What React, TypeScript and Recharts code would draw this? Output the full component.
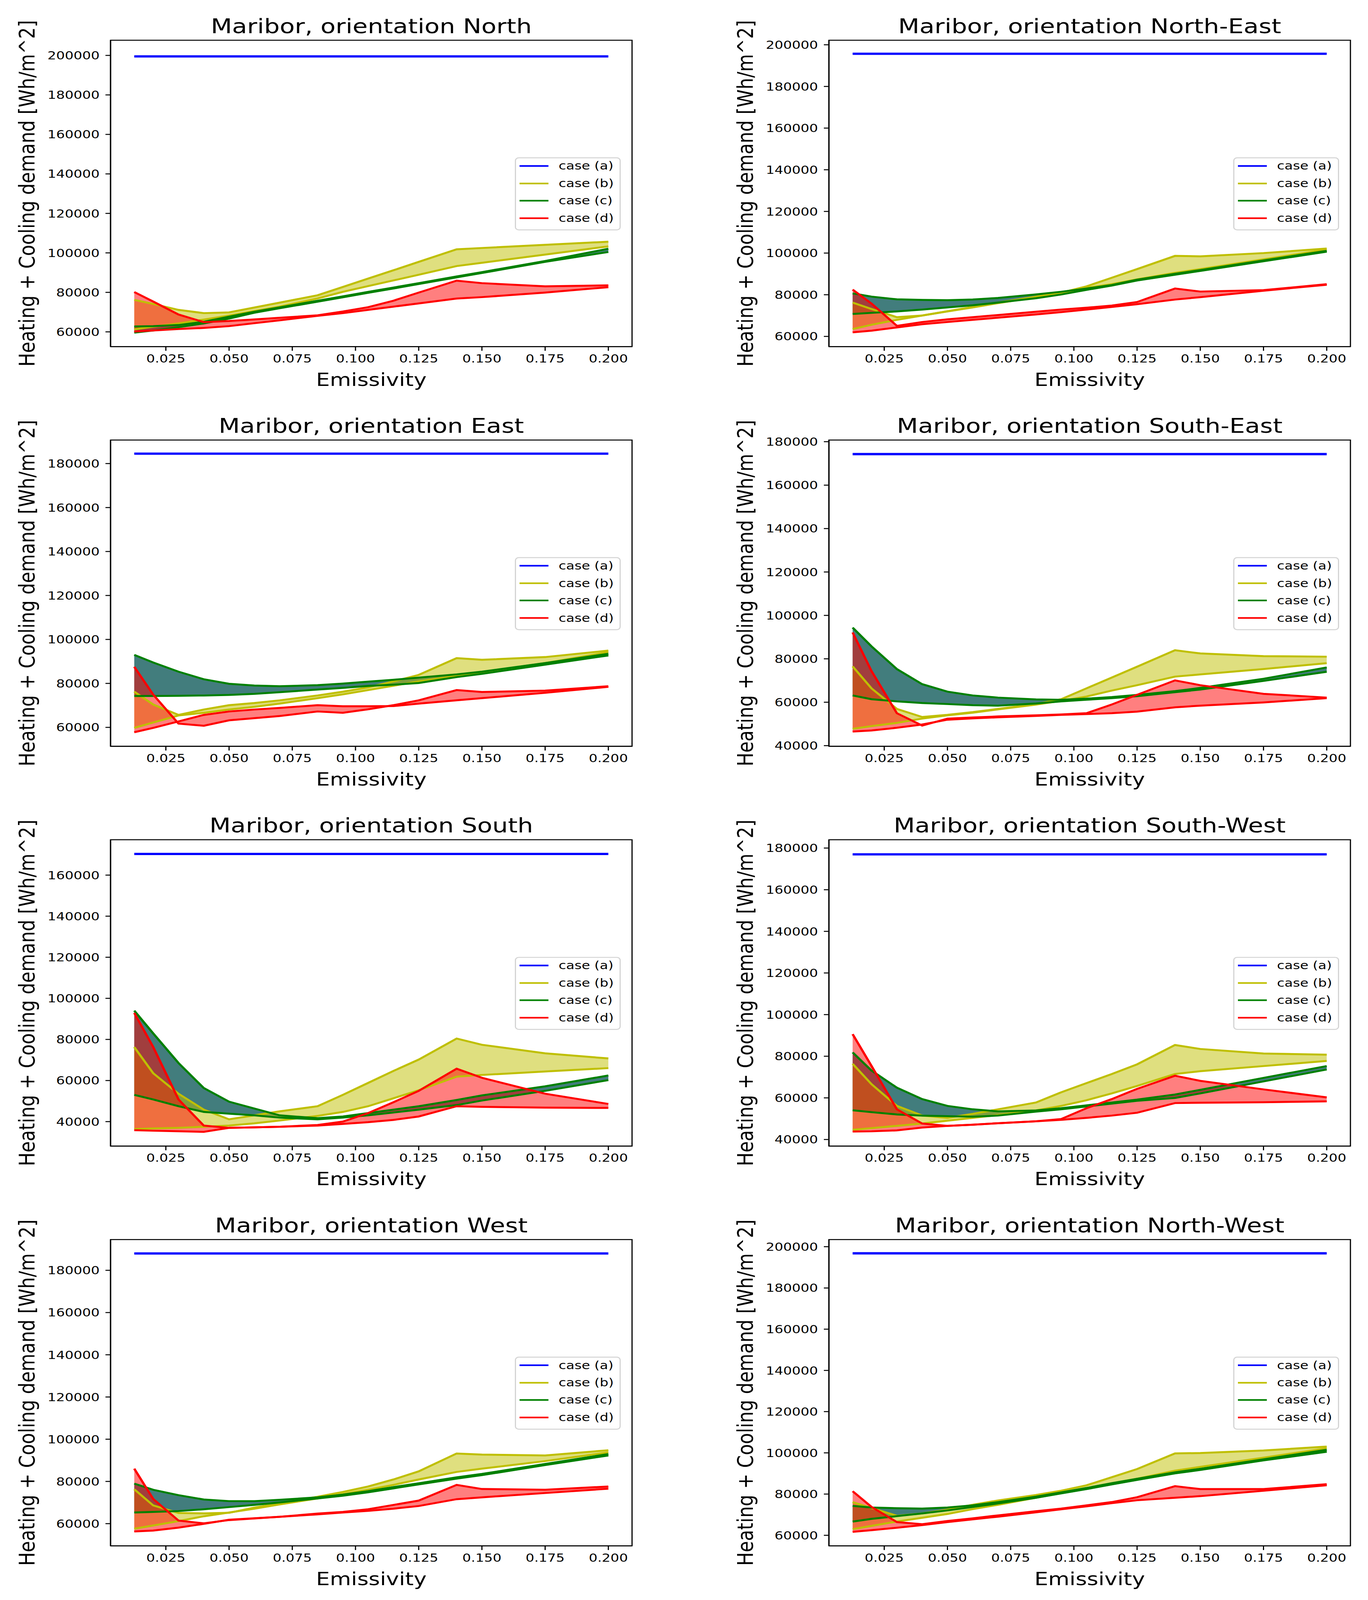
import React from "react";
import { ComposedChart, Area, Line, XAxis, YAxis, ReferenceArea, Legend } from "recharts";

const FONT = "DejaVu Sans, Verdana, sans-serif";

// emissivity values shared by every panel
const EMISSIVITY = [0.0125, 0.02, 0.03, 0.04, 0.05, 0.06, 0.07, 0.085, 0.095, 0.105, 0.115, 0.125, 0.14, 0.15, 0.175, 0.2];
const X_TICKS = [0.025, 0.05, 0.075, 0.1, 0.125, 0.15, 0.175, 0.2];
const LEGEND_LABELS = ["case (a)", "case (b)", "case (c)", "case (d)"];
const LEGEND_COLORS = ["#0000ff", "#bfbf00", "#008000", "#ff0000"];

const TICKS_60_200 = [60000, 80000, 100000, 120000, 140000, 160000, 180000, 200000];
const TICKS_60_180 = [60000, 80000, 100000, 120000, 140000, 160000, 180000];
const TICKS_40_180 = [40000, 60000, 80000, 100000, 120000, 140000, 160000, 180000];
const TICKS_40_160 = [40000, 60000, 80000, 100000, 120000, 140000, 160000];

// North
const N_A = 199500;
const N_B1 = [76220, 74140, 71120, 69480, 69860, 72330, 74800, 78520, 82740, 87000, 91180, 95450, 101800, 102470, 104060, 105650];
const N_B2 = [61260, 62630, 64270, 66190, 68210, 70570, 72770, 76880, 80280, 83180, 86030, 88930, 93320, 94960, 99130, 103290];
const N_C1 = [62740, 62900, 63450, 65100, 67700, 70150, 72400, 75740, 77980, 80230, 82420, 84670, 88070, 90260, 95900, 102090];
const N_C2 = [59620, 60710, 62360, 64270, 66740, 69690, 71940, 75280, 77520, 79770, 81960, 84210, 87610, 89800, 95440, 100440];
const N_D1 = [80170, 75340, 68770, 64930, 65480, 66300, 67120, 68380, 70300, 72490, 75780, 79890, 85920, 84660, 83070, 83560];
const N_D2 = [60160, 60710, 61420, 61970, 62900, 64380, 65860, 68110, 69480, 71120, 72770, 74410, 76880, 77590, 79890, 82630];

// North-East
const NE_A = 195700;
const NE_B1 = [76240, 73130, 69230, 70010, 72090, 74160, 76240, 79090, 81010, 84020, 88170, 92320, 98650, 98440, 100000, 102180];
const NE_B2 = [63530, 65600, 67940, 70010, 71980, 73900, 75980, 78830, 80910, 83240, 85060, 87390, 90510, 92320, 96990, 101660];
const NE_C1 = [80650, 79090, 77800, 77540, 77380, 77690, 78470, 80130, 81430, 82980, 84640, 87230, 90030, 91850, 96460, 101080];
const NE_C2 = [70790, 71310, 71980, 72870, 73900, 74940, 76240, 78310, 80130, 82360, 84380, 86830, 89630, 91450, 96060, 100680];
const NE_D1 = [82460, 75720, 65080, 66900, 68200, 69230, 70270, 71830, 72870, 73750, 74790, 76500, 82980, 81530, 82200, 85060];
const NE_D2 = [61970, 62750, 64310, 65860, 66900, 67940, 68980, 70530, 71670, 72870, 74160, 75460, 77690, 78830, 81940, 84800];

// East
const E_A = 184500;
const E_B1 = [76240, 70400, 65660, 68120, 70090, 71070, 72300, 74510, 76240, 78200, 80910, 83860, 91490, 90750, 91980, 94930];
const E_B2 = [59750, 62210, 65410, 66640, 68120, 69350, 70820, 73280, 75010, 76970, 78940, 80910, 83370, 85090, 89270, 94190];
const E_C1 = [92960, 89520, 85340, 81890, 79830, 79040, 78700, 79190, 79930, 80810, 81650, 82630, 84110, 85340, 89270, 93460];
const E_C2 = [74270, 74270, 74370, 74510, 74760, 75250, 75990, 77220, 77960, 78840, 79430, 80170, 82880, 84350, 88540, 92720];
const E_D1 = [87550, 74900, 61720, 60740, 63200, 64180, 65170, 67230, 66640, 68220, 70090, 72300, 76970, 76090, 76730, 78700];
const E_D2 = [57790, 59750, 62710, 65660, 67230, 68120, 68860, 70090, 69590, 69590, 69690, 70820, 72300, 73280, 75740, 78450];

// South-East
const SE_A = 174300;
const SE_B1 = [76520, 66350, 56920, 53200, 54200, 55440, 56920, 59160, 61390, 66410, 71370, 76380, 83960, 82470, 81230, 80980];
const SE_B2 = [47750, 48990, 50480, 52460, 53950, 55190, 56680, 58910, 60640, 62630, 65360, 67840, 71800, 72800, 75280, 78000];
const SE_C1 = [94370, 85690, 75280, 68330, 64860, 63120, 62130, 61290, 61140, 61640, 62380, 63370, 65110, 66600, 70810, 76020];
const SE_C2 = [63120, 61390, 60400, 59650, 59160, 58660, 58410, 59400, 60400, 61140, 61880, 62780, 64610, 65850, 69820, 74040];
const SE_D1 = [92140, 74280, 54940, 49240, 52460, 52960, 53450, 53950, 54350, 54940, 58960, 63420, 70070, 67840, 63870, 62130];
const SE_D2 = [46510, 47000, 48240, 49730, 51960, 52560, 53060, 53700, 54200, 54540, 54940, 55680, 57670, 58410, 59900, 61880];

// South
const S_A = 170300;
const S_B1 = [76290, 63550, 53570, 45820, 41110, 43050, 44990, 47480, 53020, 58840, 64650, 70190, 80440, 77400, 73240, 70750];
const S_B2 = [36400, 36680, 36950, 37510, 38060, 39170, 40550, 42770, 44710, 47480, 51360, 55240, 61880, 62710, 64380, 66040];
const S_C1 = [94020, 82940, 68530, 56340, 49700, 46370, 43050, 41660, 42490, 44160, 45820, 47480, 50530, 52740, 57170, 62440];
const S_C2 = [53020, 50800, 47480, 44710, 43880, 43050, 41940, 41110, 41940, 43050, 44430, 45820, 48030, 50250, 54960, 60220];
const S_D1 = [92910, 76290, 50800, 38060, 36950, 37230, 37510, 38340, 40000, 44160, 49420, 54960, 65760, 61330, 53570, 48590];
const S_D2 = [35850, 35570, 35290, 35010, 36950, 37230, 37510, 38060, 38890, 39720, 40830, 42490, 47480, 47200, 46810, 46650];

// South-West
const SW_A = 177000;
const SW_B1 = [76380, 66530, 56140, 51490, 50390, 52310, 54500, 57780, 62700, 67080, 71450, 76100, 85400, 83490, 81300, 80750];
const SW_B2 = [44650, 45470, 46560, 47660, 49030, 50390, 51760, 53950, 56140, 58870, 62150, 65710, 71450, 72820, 75280, 77740];
const SW_C1 = [81850, 73090, 64890, 59420, 56140, 54500, 53510, 53950, 55040, 56410, 57780, 59150, 61610, 63860, 69590, 75280];
const SW_C2 = [54060, 53130, 52030, 51490, 51210, 50940, 51490, 53400, 54500, 55860, 57230, 58600, 59970, 62150, 67900, 73640];
const SW_D1 = [90600, 75280, 54500, 47660, 46560, 47110, 47820, 48750, 49850, 55040, 59420, 64340, 70630, 68170, 64070, 60240];
const SW_D2 = [43830, 43940, 44380, 45740, 46560, 47110, 47820, 48750, 49460, 50390, 51490, 52850, 57500, 57670, 57890, 58320];

// West
const W_A = 188000;
const W_B1 = [76310, 68620, 65030, 64870, 65130, 67590, 69640, 72720, 75030, 77590, 80920, 84770, 93230, 92720, 92310, 94770];
const W_B2 = [57590, 59130, 61180, 63490, 65280, 67080, 69130, 71950, 74000, 76050, 78360, 80920, 84510, 86050, 89640, 93740];
const W_C1 = [78970, 76050, 73490, 71440, 70670, 70670, 71280, 72460, 73740, 75380, 77330, 79130, 81950, 83540, 88260, 92970];
const W_C2 = [65280, 65540, 65950, 66820, 67850, 68870, 70050, 71950, 73230, 74870, 76720, 78610, 81330, 82970, 87750, 92310];
const W_D1 = [86050, 71690, 61440, 60150, 61690, 62460, 63230, 64770, 65540, 66820, 68870, 70920, 78360, 76410, 76050, 77590];
const W_D2 = [56310, 56720, 58100, 59900, 61850, 62560, 63230, 64410, 65280, 66050, 67080, 68360, 71590, 72460, 74510, 76560];

// North-West
const NW_A = 196800;
const NW_B1 = [76120, 73230, 69460, 70610, 72440, 74810, 76910, 79530, 81630, 84260, 88190, 92130, 99740, 99900, 101160, 103050];
const NW_B2 = [62990, 64570, 66670, 68500, 70340, 72710, 74810, 78220, 80580, 82940, 85040, 87410, 91340, 93180, 97640, 102210];
const NW_C1 = [74280, 73490, 73130, 72970, 73490, 74540, 76110, 78740, 80840, 82940, 85310, 87410, 90560, 92240, 96860, 101480];
const NW_C2 = [66670, 67980, 69290, 70610, 72080, 73760, 75440, 78220, 80320, 82420, 84680, 86880, 90030, 91710, 96330, 100530];
const NW_D1 = [81370, 73760, 66410, 65360, 66930, 68240, 69660, 71660, 72970, 74540, 76120, 78480, 83840, 82420, 82420, 84780];
const NW_D2 = [61680, 62470, 63680, 64940, 66410, 67720, 69030, 71130, 72600, 74020, 75590, 77010, 78220, 79000, 81630, 84260];

const panels = [
  { title: "Maribor, orientation North", a: N_A, b1: N_B1, b2: N_B2, c1: N_C1, c2: N_C2, d1: N_D1, d2: N_D2, domain: [52560, 207690], ticks: TICKS_60_200 },
  { title: "Maribor, orientation North-East", a: NE_A, b1: NE_B1, b2: NE_B2, c1: NE_C1, c2: NE_C2, d1: NE_D1, d2: NE_D2, domain: [55130, 202180], ticks: TICKS_60_200 },
  { title: "Maribor, orientation East", a: E_A, b1: E_B1, b2: E_B2, c1: E_C1, c2: E_C2, d1: E_D1, d2: E_D2, domain: [51390, 190730], ticks: TICKS_60_180 },
  { title: "Maribor, orientation South-East", a: SE_A, b1: SE_B1, b2: SE_B2, c1: SE_C1, c2: SE_C2, d1: SE_D1, d2: SE_D2, domain: [39700, 180800], ticks: TICKS_40_180 },
  { title: "Maribor, orientation South", a: S_A, b1: S_B1, b2: S_B2, c1: S_C1, c2: S_C2, d1: S_D1, d2: S_D2, domain: [28100, 177200], ticks: TICKS_40_160 },
  { title: "Maribor, orientation South-West", a: SW_A, b1: SW_B1, b2: SW_B2, c1: SW_C1, c2: SW_C2, d1: SW_D1, d2: SW_D2, domain: [36850, 184000], ticks: TICKS_40_180 },
  { title: "Maribor, orientation West", a: W_A, b1: W_B1, b2: W_B2, c1: W_C1, c2: W_C2, d1: W_D1, d2: W_D2, domain: [49500, 194600], ticks: TICKS_60_180 },
  { title: "Maribor, orientation North-West", a: NW_A, b1: NW_B1, b2: NW_B2, c1: NW_C1, c2: NW_C2, d1: NW_D1, d2: NW_D2, domain: [54900, 203500], ticks: TICKS_60_200 },
];

const FIG_W = 3502;
const FIG_H = 4931;
const PANEL_W = 1650;
const PANEL_H = 1232;
const COL_STEP = 1839;
const X_DOMAIN = [0.003125, 0.209375];

const renderLegend = () => (
  <div
    style={{
      boxSizing: "border-box", width: 271, height: 225, border: "3px solid #d4d4d4",
      borderRadius: 10, background: "rgba(255,255,255,0.8)", fontFamily: FONT, fontSize: 35, color: "#000",
    }}
  >
    {LEGEND_LABELS.map((label, i) => (
      <div key={label} style={{ position: "relative", height: 53.7, marginTop: i === 0 ? -3 : 0 }}>
        <div style={{ position: "absolute", left: 9, top: 24, width: 74, height: 5, background: LEGEND_COLORS[i] }} />
        <span style={{ position: "absolute", left: 109, top: 0, lineHeight: "53.7px", whiteSpace: "nowrap" }}>{label}</span>
      </div>
    ))}
  </div>
);

const renderYLabel = (props: any) => {
  const vb = props.viewBox || {};
  const cy = vb.y + vb.height / 2;
  return (
    <text x={88} y={cy} transform={`rotate(-90, 88, ${cy})`} textAnchor="middle" fontSize={56} fontFamily={FONT} fill="#000">
      Heating + Cooling demand [Wh/m^2]
    </text>
  );
};

const renderXLabel = (props: any) => {
  const vb = props.viewBox || {};
  return (
    <text x={vb.x + vb.width / 2} y={vb.y + 121} textAnchor="middle" fontSize={56} fontFamily={FONT} fill="#000">
      Emissivity
    </text>
  );
};

const Panel = ({ p, col, row }: any) => {
  const data = EMISSIVITY.map((x, i) => ({
    x, a: p.a, b1: p.b1[i], b2: p.b2[i], c1: p.c1[i], c2: p.c2[i], d1: p.d1[i], d2: p.d2[i],
  }));
  const tick = { fill: "#000", fontSize: 35, fontFamily: FONT };
  return (
    <div style={{ position: "absolute", left: col * COL_STEP, top: row * PANEL_H, width: PANEL_W, height: PANEL_H }}>
      <div
        style={{
          position: "absolute", left: 283, width: 1335, top: 49, textAlign: "center",
          fontFamily: FONT, fontSize: 63, lineHeight: 1, color: "#000", whiteSpace: "nowrap",
        }}
      >
        {p.title}
      </div>
      <ComposedChart width={PANEL_W} height={PANEL_H} data={data} margin={{ top: 124, right: 32, bottom: 0, left: 0 }}>
        <XAxis
          dataKey="x" type="number" domain={X_DOMAIN} ticks={X_TICKS} allowDataOverflow interval={0}
          tickFormatter={(v: number) => v.toFixed(3)} height={164} tickSize={13} tickMargin={11}
          tick={tick} axisLine={{ stroke: "#000", strokeWidth: 3 }} tickLine={{ stroke: "#000", strokeWidth: 3 }}
          label={{ content: renderXLabel }}
        />
        <YAxis
          type="number" domain={p.domain} ticks={p.ticks} allowDataOverflow interval={0} width={283}
          tickSize={13} tickMargin={15} tick={tick}
          axisLine={{ stroke: "#000", strokeWidth: 3 }} tickLine={{ stroke: "#000", strokeWidth: 3 }}
          label={{ content: renderYLabel }}
        />
        <Area type="linear" dataKey={(d: any) => [d.c1, d.c2]} fill="#427d7d" fillOpacity={1} stroke="none" isAnimationActive={false} legendType="none" />
        <Area type="linear" dataKey={(d: any) => [d.b1, d.b2]} fill="#bfbf00" fillOpacity={0.5} stroke="none" isAnimationActive={false} legendType="none" />
        <Area type="linear" dataKey={(d: any) => [d.d1, d.d2]} fill="#ff0000" fillOpacity={0.5} stroke="none" isAnimationActive={false} legendType="none" />
        <Line type="linear" dataKey="a" stroke="#0000ff" strokeWidth={7} dot={false} isAnimationActive={false} />
        <Line type="linear" dataKey="b1" stroke="#bfbf00" strokeWidth={6} dot={false} isAnimationActive={false} />
        <Line type="linear" dataKey="b2" stroke="#bfbf00" strokeWidth={6} dot={false} isAnimationActive={false} />
        <Line type="linear" dataKey="c1" stroke="#008000" strokeWidth={6} dot={false} isAnimationActive={false} />
        <Line type="linear" dataKey="c2" stroke="#008000" strokeWidth={6} dot={false} isAnimationActive={false} />
        <Line type="linear" dataKey="d1" stroke="#ff0000" strokeWidth={6} dot={false} isAnimationActive={false} />
        <Line type="linear" dataKey="d2" stroke="#ff0000" strokeWidth={6} dot={false} isAnimationActive={false} />
        <ReferenceArea
          x1={X_DOMAIN[0]} x2={X_DOMAIN[1]} y1={p.domain[0]} y2={p.domain[1]}
          fill="none" fillOpacity={0} stroke="#000" strokeWidth={3} ifOverflow="visible"
        />
        <Legend
          content={renderLegend} layout="vertical" align="center" verticalAlign="middle"
          wrapperStyle={{ left: 1318, top: 485, width: 271, height: 225 }}
        />
      </ComposedChart>
    </div>
  );
};

export default function App() {
  // the window may be shorter than the figure; squeeze vertically so the whole figure shows
  const viewH = typeof window !== "undefined" && window.innerHeight > 0 ? window.innerHeight : FIG_H;
  const k = Math.min(1, viewH / FIG_H);
  return (
    <div style={{ width: FIG_W, height: Math.floor(FIG_H * k), overflow: "hidden", background: "#fff" }}>
      <style>{"body{margin:0;background:#fff}"}</style>
      <div
        style={{
          position: "relative", width: FIG_W, height: FIG_H, background: "#fff",
          transform: `scale(1, ${k})`, transformOrigin: "0 0",
        }}
      >
        {panels.map((p, i) => (
          <Panel key={p.title} p={p} col={i % 2} row={Math.floor(i / 2)} />
        ))}
      </div>
    </div>
  );
}
